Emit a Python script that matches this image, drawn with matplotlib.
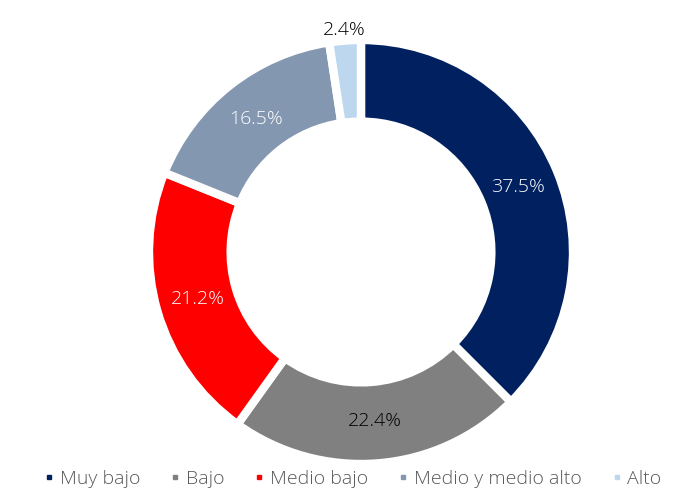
import matplotlib
matplotlib.use("Agg")
import matplotlib.pyplot as plt
from matplotlib.lines import Line2D
import numpy as np

categories = ["Muy bajo", "Bajo", "Medio bajo", "Medio y medio alto", "Alto"]
values = [37.5, 22.4, 21.2, 16.5, 2.4]
colors = ["#002060", "#808080", "#FF0000", "#8497B0", "#BDD7EE"]
label_colors = ["white", "black", "white", "white", "black"]

plt.rcParams['font.family'] = ['Open Sans', 'DejaVu Sans']

W, H = 682, 491
fig = plt.figure(figsize=(W / 100, H / 100), dpi=100)
ax = fig.add_axes([0, 0, 1, 1])
cx, cy, R = 361, 252, 212

wedges, _ = ax.pie(values, colors=colors, startangle=90, counterclock=False,
                   radius=1, wedgeprops=dict(width=0.385, edgecolor="white", linewidth=6))

cum = 0
for v, lc in zip(values, label_colors):
    mid = 90 - (cum + v / 2) * 3.6
    cum += v
    d = 0.80 if v > 5 else 1.05
    ax.text(d * np.cos(np.radians(mid)), d * np.sin(np.radians(mid)), f"{v:.1f}%",
            ha="center", va="center", color=lc, fontsize=14, fontweight='light')

ax.set_xlim(-cx / R, (W - cx) / R)
ax.set_ylim(-(H - cy) / R, cy / R)
ax.set_aspect('auto')
ax.axis('off')

handles = [Line2D([0], [0], marker='s', linestyle='', markersize=3,
                  markerfacecolor=c, markeredgecolor=c) for c in colors]
leg = fig.legend(handles, categories, loc='center', bbox_to_anchor=(0.518, 1 - 479 / H),
                 ncol=5, frameon=False, labelcolor="#595959",
                 handlelength=0.4, handletextpad=0.35, columnspacing=1.6,
                 borderpad=0.0, prop=dict(family='Open Sans', size=14, weight='light'))

fig.savefig("out.png", dpi=100)
